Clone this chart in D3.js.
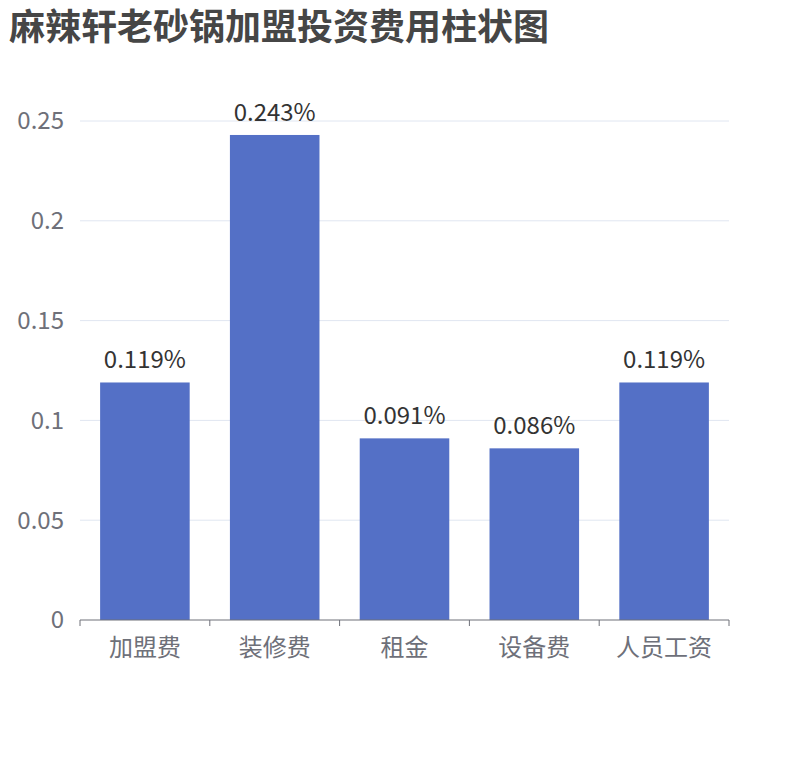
<!DOCTYPE html>
<html><head><meta charset="utf-8">
<script src="https://cdn.jsdelivr.net/npm/d3@7"></script>
<style>body{margin:0;background:#fff}</style>
</head><body>
<svg id="c" width="810" height="760"></svg>
<script>
const title = "麻辣轩老砂锅加盟投资费用柱状图";
const categories = ["加盟费","装修费","租金","设备费","人员工资"];
const values = [0.119,0.243,0.091,0.086,0.119];
const yTicks = [0,0.05,0.1,0.15,0.2,0.25];
const yTickLabels = ["0","0.05","0.1","0.15","0.2","0.25"];

const font = "'Noto Sans CJK SC','Noto Sans',sans-serif";
const svg = d3.select("#c");
const L=80,R=729,T=121,B=620;
const x = d3.scaleBand().domain(categories).range([L,R]).paddingInner(0.31).paddingOuter(0.155);
const y = d3.scaleLinear().domain([0,0.25]).range([B,T]);

svg.append("text").attr("x",9).attr("y",40).text(title)
  .attr("font-family",font).attr("font-weight","bold").attr("font-size",36).attr("fill","#464646");

svg.append("g").selectAll("line").data(yTicks.slice(1)).join("line")
  .attr("x1",L).attr("x2",R).attr("y1",d=>y(d)).attr("y2",d=>y(d)).attr("stroke","#e0e6f1");
svg.append("g").selectAll("text").data(yTicks).join("text")
  .attr("x",L-16).attr("y",d=>y(d)).attr("dy","0.35em").attr("text-anchor","end")
  .text((d,i)=>yTickLabels[i]).attr("font-family",font).attr("font-size",24).attr("fill","#6e7079");

svg.append("g").selectAll("rect").data(values).join("rect")
  .attr("x",(d,i)=>x(categories[i])).attr("width",x.bandwidth())
  .attr("y",d=>y(d)).attr("height",d=>B-y(d)).attr("fill","#5470c6");
svg.append("g").selectAll("text").data(values).join("text")
  .attr("x",(d,i)=>x(categories[i])+x.bandwidth()/2).attr("y",d=>y(d)-14)
  .attr("text-anchor","middle").text(d=>d+"%")
  .attr("font-family",font).attr("font-size",24).attr("fill","#333");

svg.append("line").attr("x1",L).attr("x2",R).attr("y1",B).attr("y2",B).attr("stroke","#6e7079");
const step = (R-L)/categories.length;
svg.append("g").selectAll("line").data(d3.range(categories.length+1)).join("line")
  .attr("x1",i=>L+i*step).attr("x2",i=>L+i*step).attr("y1",B).attr("y2",B+6).attr("stroke","#6e7079");
svg.append("g").selectAll("text").data(categories).join("text")
  .attr("x",d=>x(d)+x.bandwidth()/2).attr("y",B+36).attr("text-anchor","middle").text(d=>d)
  .attr("font-family",font).attr("font-size",24).attr("fill","#6e7079");
</script>
</body></html>
